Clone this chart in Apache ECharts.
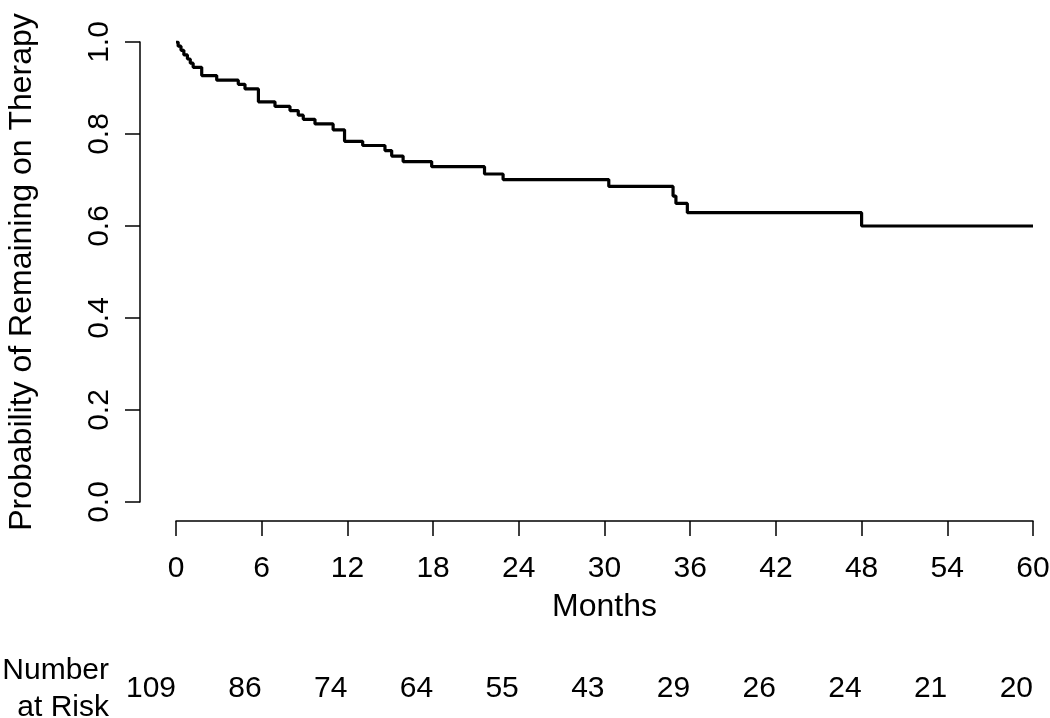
<!DOCTYPE html>
<html>
<head>
<meta charset="utf-8">
<script src="https://cdn.jsdelivr.net/npm/echarts@6/dist/echarts.min.js"></script>
<style>
html,body{margin:0;padding:0;background:#fff;}
#chart{width:1050px;height:718px;}
</style>
</head>
<body>
<div id="chart"></div>
<script>
// Kaplan-Meier step points (months, probability)
const months = [0, 0.15, 0.35, 0.55, 0.8, 1.0, 1.2, 1.8, 2.85, 4.36, 4.83, 5.77, 6.93, 7.98, 8.56, 8.91, 9.73, 11.0, 11.8, 13.07, 14.63, 15.1, 15.9, 17.9, 21.6, 22.9, 30.3, 34.8, 35.0, 35.8, 48.0, 60];
const survival = [1.0, 0.991, 0.982, 0.972, 0.963, 0.954, 0.945, 0.927, 0.917, 0.908, 0.898, 0.870, 0.860, 0.851, 0.841, 0.832, 0.822, 0.809, 0.784, 0.775, 0.764, 0.752, 0.740, 0.729, 0.713, 0.701, 0.686, 0.665, 0.649, 0.629, 0.600, 0.600];
// Number at risk at each x tick
const riskTicks = [0, 6, 12, 18, 24, 30, 36, 42, 48, 54, 60];
const atRisk = [109, 86, 74, 64, 55, 43, 29, 26, 24, 21, 20];
const yTicks = [0, 0.2, 0.4, 0.6, 0.8, 1.0];

const FONT = "'Liberation Sans', Arial, sans-serif";
const chart = echarts.init(document.getElementById('chart'), null, {renderer: 'canvas'});
const lineData = months.map((m, i) => [m, survival[i]]);

chart.setOption({
  animation: false,
  backgroundColor: '#fff',
  grid: {left: 176, right: 17, top: 42, bottom: 216, containLabel: false, outerBoundsMode: 'none'},
  xAxis: [{
    type: 'value', min: 0, max: 60, interval: 6, offset: 19,
    axisLine: {show: true, onZero: false, lineStyle: {color: '#000', width: 1.5}},
    axisTick: {show: true, length: 15, lineStyle: {color: '#000', width: 1.5}},
    axisLabel: {color: '#000', fontSize: 30, fontFamily: FONT, margin: 33},
    splitLine: {show: false},
    name: 'Months', nameLocation: 'middle', nameGap: 70,
    nameTextStyle: {color: '#000', fontSize: 32, fontFamily: FONT}
  }, {
    type: 'value', min: 0, max: 60, interval: 6, offset: 187, position: 'bottom',
    axisLine: {show: false, onZero: false}, axisTick: {show: false}, splitLine: {show: false},
    axisLabel: {
      color: '#000', fontSize: 30, fontFamily: FONT, margin: 0,
      align: 'right', verticalAlign: 'middle',
      showMinLabel: true, showMaxLabel: true,
      formatter: v => { const i = riskTicks.indexOf(v); return i >= 0 ? String(atRisk[i]) : ''; }
    },
    name: 'Number\nat Risk', nameLocation: 'start', nameGap: 67,
    nameTextStyle: {color: '#000', fontSize: 30, fontFamily: FONT, lineHeight: 37, align: 'right', verticalAlign: 'middle'}
  }],
  yAxis: {
    type: 'value', min: 0, max: 1, interval: 0.2, offset: 36,
    axisLine: {show: true, onZero: false, lineStyle: {color: '#000', width: 1.5}},
    axisTick: {show: true, length: 15, lineStyle: {color: '#000', width: 1.5}},
    axisLabel: {color: '#000', fontSize: 30, fontFamily: FONT, margin: 25, rotate: 90,
      formatter: v => v.toFixed(1)},
    splitLine: {show: false},
    name: 'Probability of Remaining on Therapy', nameLocation: 'middle', nameGap: 102,
    nameTextStyle: {color: '#000', fontSize: 32, fontFamily: FONT}
  },
  series: [{
    type: 'line', xAxisIndex: 0, step: 'end', data: lineData,
    symbol: 'none', lineStyle: {color: '#000', width: 3.2}
  }]
});
</script>
</body>
</html>
